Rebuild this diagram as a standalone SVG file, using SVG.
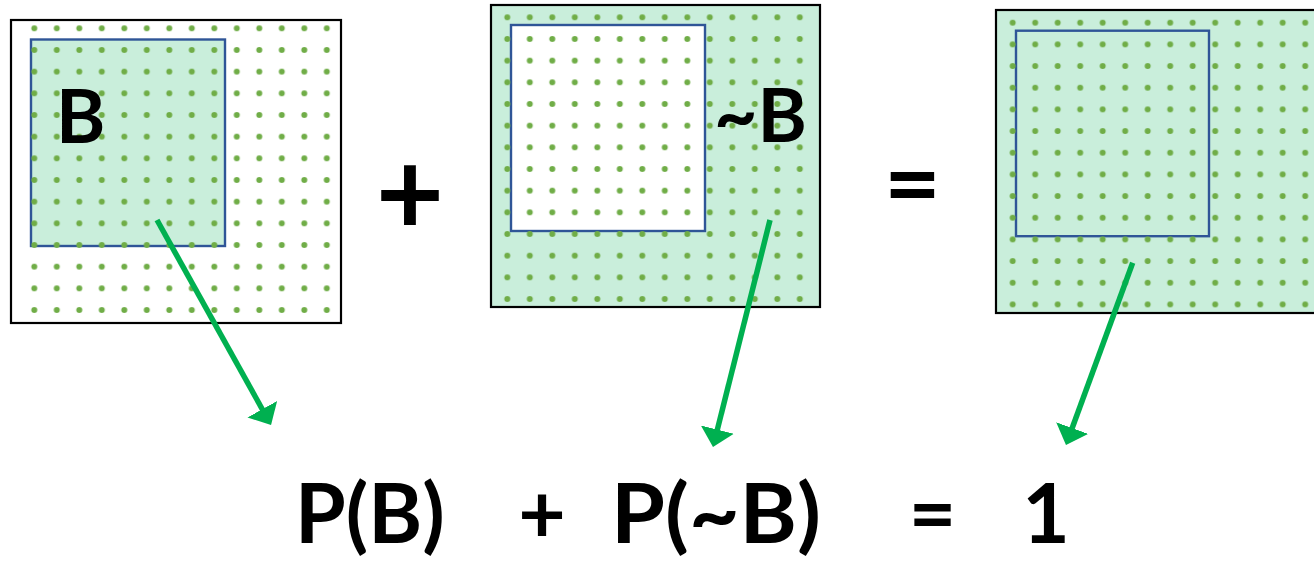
<svg xmlns="http://www.w3.org/2000/svg" width="1314" height="564" viewBox="0 0 1314 564">
  <style>
    .outer { stroke: #000; stroke-width: 2.2; }
    .inner { stroke: #2f5597; stroke-width: 2.4; }
    .green { fill: #c9eedb; }
    .white { fill: #ffffff; }
    .dots { fill: url(#dots); }
    .lbl { font-family: Lato, "Open Sans", "Liberation Sans", sans-serif; font-weight: bold; fill: #000; }
    .arrow { stroke: #00b050; stroke-width: 5.5; fill: none; marker-end: url(#head); }
  </style>
  <defs>
    <pattern id="dots" patternUnits="userSpaceOnUse" width="22.5" height="21.67">
      <circle cx="11.25" cy="10.83" r="3" fill="#70ad47"/>
    </pattern>
    <marker id="head" markerUnits="userSpaceOnUse" viewBox="0 -17 18 34" refX="6" refY="0" markerWidth="18" markerHeight="34" orient="auto">
      <path d="M0,-17 L18,0 L0,17 Z" fill="#00b050"/>
    </marker>
  </defs>
  <rect width="1314" height="564" fill="#ffffff"/>

  <g id="box-b">
    <rect class="outer white" x="11" y="20" width="330" height="303"/>
    <rect class="inner green" x="31" y="39.5" width="194" height="206.5"/>
    <g transform="translate(23.05,17.47)"><rect class="dots" x="0" y="0" width="315" height="303.4"/></g>
    <text class="lbl" x="56" y="143" font-size="75">B</text>
  </g>

  <text class="lbl" x="410" y="235" font-size="118" text-anchor="middle">+</text>

  <g id="box-notb">
    <rect class="outer green" x="491" y="5" width="329" height="302"/>
    <rect class="inner white" x="511" y="25" width="194" height="206"/>
    <g transform="translate(496.05,6.47)"><rect class="dots" x="0" y="0" width="315" height="303.4"/></g>
    <text class="lbl" x="807" y="142" font-size="75" text-anchor="end">~B</text>
  </g>

  <text class="lbl" x="912.5" y="218" font-size="98" text-anchor="middle">=</text>

  <g id="box-all">
    <rect class="outer green" x="996" y="10" width="340" height="303"/>
    <rect class="inner green" x="1016" y="30.7" width="193" height="205.5"/>
    <g transform="translate(1001.45,11.87)"><rect class="dots" x="0" y="0" width="315" height="303.4"/></g>
  </g>

  <g id="connectors">
    <line class="arrow" x1="157" y1="220" x2="265.2" y2="414.5"/>
    <line class="arrow" x1="770" y1="220" x2="715.9" y2="435.4"/>
    <line class="arrow" x1="1132.7" y1="262.7" x2="1070.1" y2="433.7"/>
  </g>

  <g id="equation">
    <text class="lbl" x="295" y="543" font-size="82">P(B)</text>
    <text class="lbl" x="542" y="543" font-size="82" text-anchor="middle">+</text>
    <text class="lbl" x="611" y="543" font-size="82" textLength="210" lengthAdjust="spacingAndGlyphs">P(~B)</text>
    <text class="lbl" x="932.5" y="543" font-size="82" text-anchor="middle">=</text>
    <text class="lbl" x="1046" y="543" font-size="82" text-anchor="middle">1</text>
  </g>
</svg>
